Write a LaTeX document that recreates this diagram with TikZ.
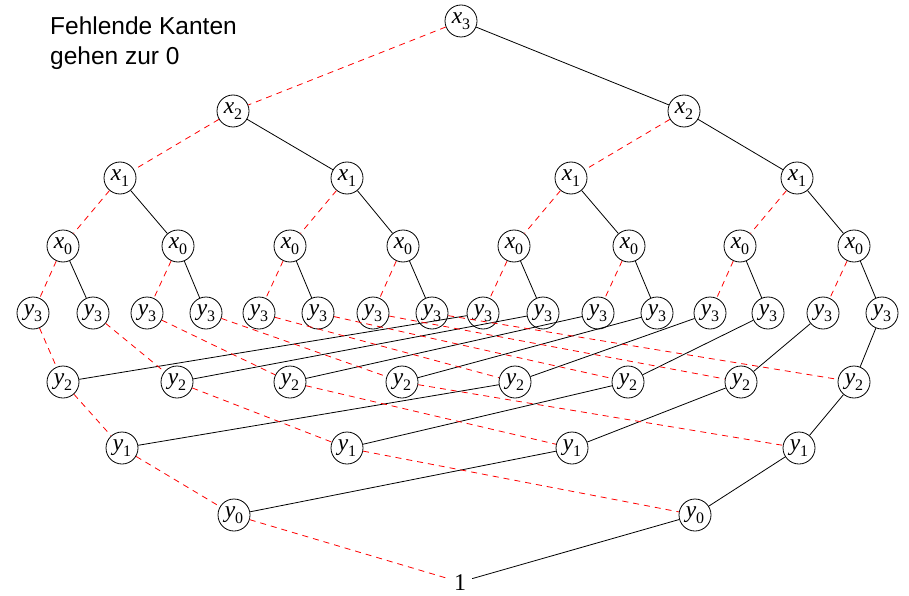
\documentclass[tikz,border=0pt]{standalone}
\usepackage{fontspec}
\setmainfont{Liberation Serif}
\newfontfamily\notesans{Liberation Sans}
\newcommand\bddlab[2]{\textit{#1}\raisebox{-0.28em}{\fontsize{16}{16}\selectfont #2}}
\begin{document}
\begin{tikzpicture}[x=1pt,y=-1pt,
  bdd/.style={circle,draw,line width=0.8pt,minimum size=32pt,inner sep=0pt,font=\fontsize{23.5}{23.5}\selectfont},
  lo/.style={draw=red,dash pattern=on 6pt off 5pt,line width=0.8pt},
  hi/.style={draw=black,line width=0.8pt},
  note/.style={anchor=base west,inner sep=0pt,font=\notesans\fontsize{24.5}{30}\selectfont}]
\useasboundingbox (0,0) rectangle (909,596);
\node[note] (n1) at (50,35) {Fehlende Kanten};
\node[note] (n2) at (50,65) {gehen zur 0};
% nodes
\node[bdd] (x3) at (461,21) {\bddlab{x}{3}};
\foreach \xx [count=\i from 0] in {233,684}
  \node[bdd] (x2-\i) at (\xx,111) {\bddlab{x}{2}};
\foreach \xx [count=\i from 0] in {120,347,571,797}
  \node[bdd] (x1-\i) at (\xx,178) {\bddlab{x}{1}};
\foreach \xx [count=\i from 0] in {63,178,290,403,514,629,740,854}
  \node[bdd] (x0-\i) at (\xx,246) {\bddlab{x}{0}};
\foreach \xx [count=\i from 0] in {33,93,147,206,259,318,373,432,483,543,598,657,710,768,823,882}
  \node[bdd] (y3-\i) at (\xx,313) {\bddlab{y}{3}};
\foreach \xx [count=\i from 0] in {63,177,290,402,515,628,741,854}
  \node[bdd] (y2-\i) at (\xx,382) {\bddlab{y}{2}};
\foreach \xx [count=\i from 0] in {122,347,572,799}
  \node[bdd] (y1-\i) at (\xx,448) {\bddlab{y}{1}};
\foreach \xx [count=\i from 0] in {234,695}
  \node[bdd] (y0-\i) at (\xx,515) {\bddlab{y}{0}};
\node[rectangle,inner xsep=6pt,inner ysep=1pt,anchor=base,font=\fontsize{24}{24}\selectfont] (one) at (460,590) {1};
% edges
\draw[lo] (x3) -- (x2-0);
\draw[hi] (x3) -- (x2-1);
\foreach \i in {0,1}{
  \pgfmathtruncatemacro\a{2*\i}\pgfmathtruncatemacro\b{2*\i+1}
  \draw[lo] (x2-\i) -- (x1-\a);
  \draw[hi] (x2-\i) -- (x1-\b);}
\foreach \i in {0,...,3}{
  \pgfmathtruncatemacro\a{2*\i}\pgfmathtruncatemacro\b{2*\i+1}
  \draw[lo] (x1-\i) -- (x0-\a);
  \draw[hi] (x1-\i) -- (x0-\b);}
\foreach \i in {0,...,7}{
  \pgfmathtruncatemacro\a{2*\i}\pgfmathtruncatemacro\b{2*\i+1}
  \draw[lo] (x0-\i) -- (y3-\a);
  \draw[hi] (x0-\i) -- (y3-\b);}
\foreach \i in {0,...,7}{
  \pgfmathtruncatemacro\b{\i+8}
  \draw[lo] (y3-\i) -- (y2-\i);
  \draw[hi] (y3-\b) -- (y2-\i);}
\foreach \i in {0,...,3}{
  \pgfmathtruncatemacro\b{\i+4}
  \draw[lo] (y2-\i) -- (y1-\i);
  \draw[hi] (y2-\b) -- (y1-\i);}
\foreach \i in {0,1}{
  \pgfmathtruncatemacro\b{\i+2}
  \draw[lo] (y1-\i) -- (y0-\i);
  \draw[hi] (y1-\b) -- (y0-\i);}
\draw[lo] (y0-0) -- (one);
\draw[hi] (y0-1) -- (one);
\end{tikzpicture}
\end{document}
